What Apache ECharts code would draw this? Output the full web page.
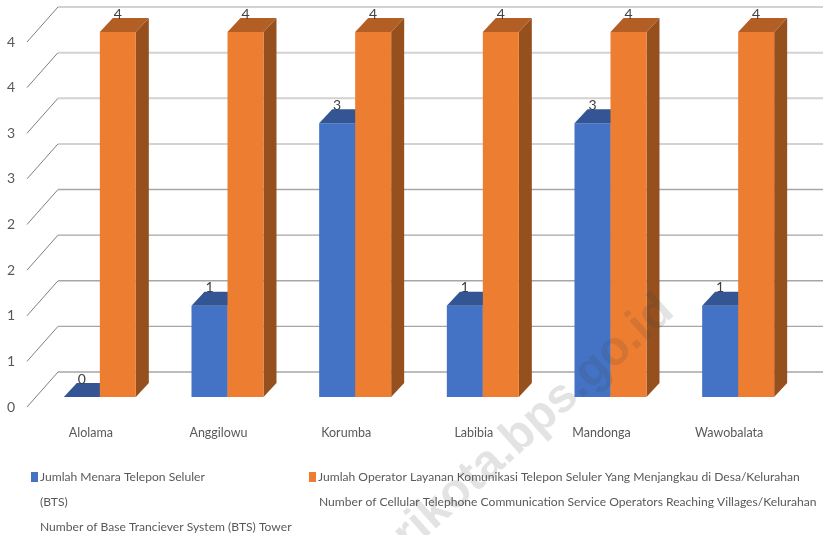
<!DOCTYPE html>
<html><head><meta charset="utf-8">
<style>html,body{margin:0;padding:0;background:#fff}#c{width:823px;height:535px;filter:blur(0.45px)}</style>
<script src="https://cdn.jsdelivr.net/npm/echarts@6/dist/echarts.min.js"></script>
</head><body><div id="c"></div>
<script>
var categories = ['Alolama','Anggilowu','Korumba','Labibia','Mandonga','Wawobalata'];
var towers = [0,1,3,1,3,1];
var operators = [4,4,4,4,4,4];
var ticks = [0,0.5,1,1.5,2,2.5,3,3.5,4];
var towerName = 'Jumlah Menara Telepon Seluler';
var operatorName = 'Jumlah Operator Layanan Komunikasi Telepon Seluler Yang Menjangkau di Desa/Kelurahan';
var towerExtra = '(BTS)\nNumber of Base Tranciever System (BTS) Tower';
var operatorExtra = 'Number of Cellular Telephone Communication Service Operators Reaching Villages/Kelurahan';
var FONT = 'Lato,"Liberation Sans",sans-serif';
var W = 36, SHIFT_X = 9, SHIFT_Y = -10, DX = 13, DY = 14, BACK_X = 31, BACK_Y = -35;

function bar3d(side, front, top, sideC){
  return function(params, api){
    var x0 = api.coord([api.value(0), 0]), p = api.coord([api.value(0), api.value(1)]);
    var l = x0[0] + SHIFT_X + (side < 0 ? -W : 0), r = l + W;
    var b = x0[1] + SHIFT_Y, t = p[1] + SHIFT_Y;
    var kids = [];
    if (b - t > 0.5) {
      kids.push({type:'polygon',shape:{points:[[r,b],[r+DX,b-DY],[r+DX,t-DY],[r,t]]},style:{fill:sideC}});
      kids.push({type:'rect',shape:{x:l,y:t,width:W,height:b-t},style:{fill:front}});
    }
    kids.push({type:'polygon',shape:{points:[[l,t],[l+DX,t-DY],[r+DX,t-DY],[r,t]]},style:{fill:top}});
    kids.push({type:'text',style:{text:String(api.value(1)),x:(l+r)/2,y:t-18,align:'center',verticalAlign:'middle',fill:'#404040',font:'14px '+FONT}});
    return {type:'group',children:kids};
  };
}
function wall(params, api){
  var v = api.value(1), c = api.coord([0, v]), s = params.coordSys;
  var x = s.x, y = c[1], bx = x + BACK_X, by = y + BACK_Y;
  var upper = v >= 2.5;
  return {type:'group',children:[
    {type:'line',shape:{x1:x,y1:y,x2:bx,y2:by},style:{stroke:'#7f7f7f',lineWidth:1}},
    {type:'line',shape:{x1:bx,y1:by,x2:s.x+s.width+BACK_X,y2:by},style:{stroke:upper?'#d2d2d2':'#a6a6a6',lineWidth:upper?2:1.3}}
  ]};
}
var chart = echarts.init(document.getElementById('c'), null, {renderer:'canvas'});
chart.setOption({
  animation:false, backgroundColor:'#fff',
  grid:{left:27,right:30,top:42,bottom:128,containLabel:false},
  xAxis:{type:'category',data:categories,axisLine:{show:false},axisTick:{show:false},
    axisLabel:{margin:19,fontSize:12.5,fontFamily:FONT,color:'#595959'}},
  yAxis:{type:'value',min:0,max:4,interval:0.5,splitLine:{show:false},axisLine:{show:false},axisTick:{show:false},
    axisLabel:{margin:12,fontSize:14,fontFamily:FONT,color:'#595959',formatter:function(v){return String(Math.ceil(v));}}},
  legend:[
    {data:[towerName],left:26,top:466,icon:'rect',itemWidth:7,itemHeight:10,itemGap:0,textStyle:{fontSize:12.1,fontFamily:FONT,color:'#595959',padding:[0,0,0,-3]}},
    {data:[operatorName],left:304,top:466,icon:'rect',itemWidth:7,itemHeight:10,itemGap:0,textStyle:{fontSize:12.1,fontFamily:FONT,color:'#595959',padding:[0,0,0,-3]}}
  ],
  graphic:[
    {type:'text',left:40,top:490,style:{text:towerExtra,font:'12.1px '+FONT,fill:'#595959',lineHeight:24.5}},
    {type:'text',left:319,top:490,style:{text:operatorExtra,font:'12.1px '+FONT,fill:'#595959',lineHeight:24.5}},
    {type:'text',z:100,x:667,y:304,rotation:0.73,style:{text:'kendarikota.bps.go.id',x:0,y:0,align:'right',verticalAlign:'middle',font:'bold 48px "Liberation Sans",sans-serif',fill:'rgba(70,70,70,0.15)'}}
  ],
  series:[
    {type:'custom',name:'wall',silent:true,renderItem:wall,z:1,data:ticks.map(function(v){return [0,v];})},
    {type:'custom',name:towerName,renderItem:bar3d(-1,'#4472C4','#335593','#2f5288'),z:2,itemStyle:{color:'#4472C4'},
      data:towers.map(function(v,i){return [i,v];})},
    {type:'custom',name:operatorName,renderItem:bar3d(1,'#ED7D31','#B25E24','#95501E'),z:3,itemStyle:{color:'#ED7D31'},
      data:operators.map(function(v,i){return [i,v];})}
  ]
});
</script></body></html>
